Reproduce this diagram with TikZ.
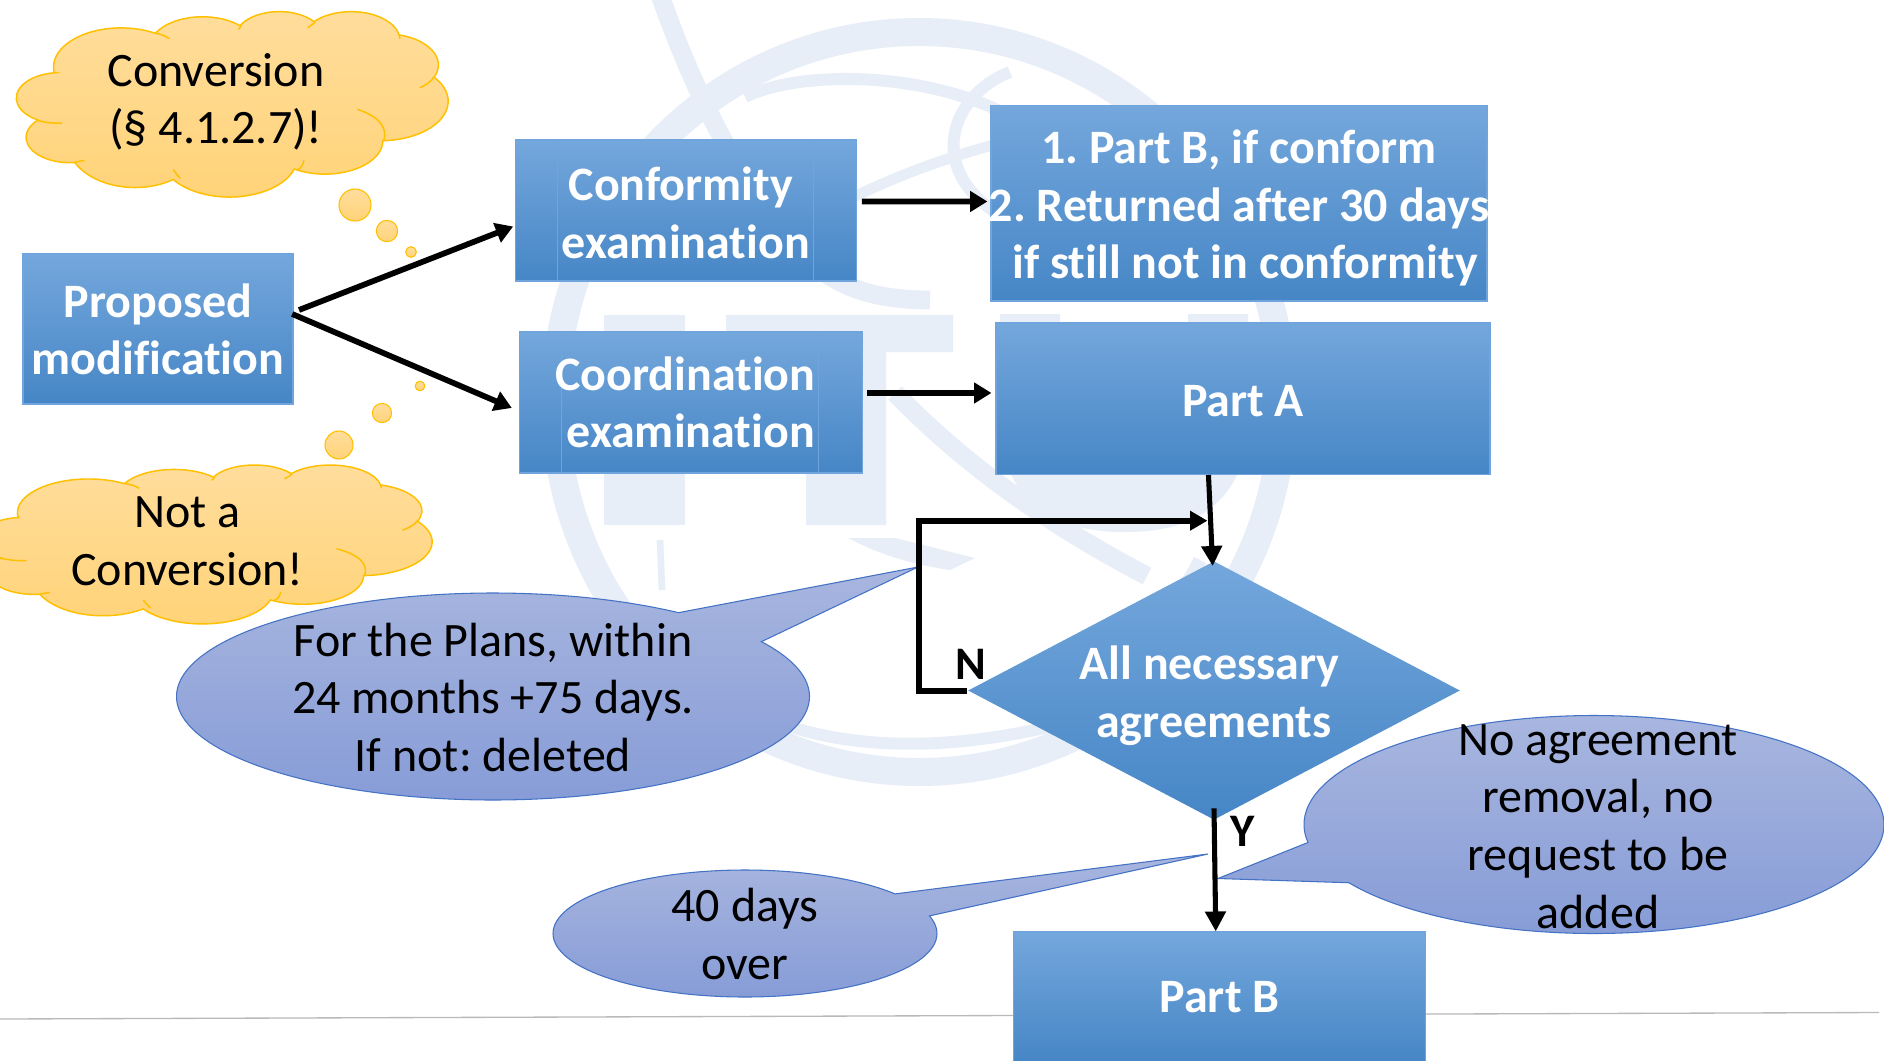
\documentclass[tikz,border=0pt]{standalone}
\usepackage{fontspec}
\setmainfont[Ligatures=NoCommon]{Carlito}
\usetikzlibrary{arrows.meta,shapes.geometric,calc}
\definecolor{wm}{HTML}{E8EEF8}
\definecolor{boxA}{HTML}{74A7DC}
\definecolor{boxB}{HTML}{5A9BDB}
\definecolor{boxC}{HTML}{4686C6}
\definecolor{boxL}{HTML}{6FA5DC}
\definecolor{cloudT}{HTML}{FFDD9C}
\definecolor{cloudB}{HTML}{FFD378}
\definecolor{cloudE}{HTML}{FFC000}
\definecolor{callT}{HTML}{A8B6DF}
\definecolor{callB}{HTML}{879CD7}
\definecolor{callE}{HTML}{4472C4}
\newcommand\ca[4]{arc[x radius=#1pt,y radius=#2pt,start angle={atan2(#1*sin(#3),#2*cos(#3))},delta angle={Mod(atan2(#1*sin(#3+#4),#2*cos(#3+#4))-atan2(#1*sin(#3),#2*cos(#3)),360)}]}
\newcommand\cloudshape{(39,143.7) \ca{67.53}{91.90}{-190.487}{123.781} \ca{53.33}{72.67}{-144.102}{89.945} \ca{43.65}{59.45}{-145.808}{99.723} \ca{48.57}{65.95}{-130.986}{117.242} \ca{53.33}{72.73}{-78.709}{109.027} \ca{67.75}{92.20}{-46.282}{134.647} \ca{57.85}{78.67}{0.625}{114.033} \ca{67.52}{92.15}{22.452}{115.173} \ca{67}{105.43}{66.243}{75.711} \ca{43.60}{59.18}{-274.942}{146.736} \ca{43.45}{59.45}{-246.829}{152.519} -- cycle}
\newcommand\cloudinner{(46.93,261.77) .. controls (36,263) and (28,259) .. (22,255) (69.28,348.99) .. controls (66,350) and (63,351) .. (60,353) (164.78,390.90) .. controls (162,384) and (160,377) .. (158,370) (288.27,347.51) .. controls (288,358) and (285,369) .. (281,372) (341.29,229.54) .. controls (362,245) and (372,270) .. (368,303) (417.98,153.54) .. controls (416,163) and (411,172) .. (404,179) (383.24,54.26) .. controls (384,58) and (384,61) .. (384,65) (292,39) .. controls (296,32) and (300,27) .. (299,25) (223,43) .. controls (225,37) and (226,35) .. (225,34) (140,52) .. controls (146,54) and (150,58) .. (154,65)}
\newcommand\mycloud[4]{\begin{scope}[shift={(#1,#2)},x=1pt,y=1pt,xscale={0.75*#3/432},yscale={-0.75*#4/432}]
\draw[cloudE,line width=1.1pt,top color=cloudT,bottom color=cloudB] \cloudshape;
\draw[cloudE,line width=1.1pt] \cloudinner;
\end{scope}}
\newcommand\lift[1]{\rule{0pt}{#1}}
\tikzset{
 flowbox/.style={rectangle,draw=boxL,line width=.8pt,top color=boxA,middle color=boxB,bottom color=boxC,text=white,font=\fontsize{36}{43.2}\selectfont\bfseries,align=center,inner sep=0pt},
 sidebars/.style={path picture={
   \draw[boxL,line width=.7pt] ([xshift=31.5pt]path picture bounding box.north west) -- ([xshift=31.5pt]path picture bounding box.south west);
   \draw[boxL,line width=.7pt] ([xshift=-32.5pt]path picture bounding box.north east) -- ([xshift=-32.5pt]path picture bounding box.south east);}},
 talk/.style={font=\fontsize{36}{43.2}\selectfont,align=center,inner sep=0pt,text=black},
 conn/.style={black,line width=4.3pt,-{Triangle[length=13pt,width=15pt]}},
 thinconn/.style={black,line width=3.8pt,-{Triangle[length=15pt,width=15pt]}},
 bubble/.style={draw=cloudE,line width=.8pt,top color=cloudT,bottom color=cloudB},
 callout/.style={draw=callE,line width=.8pt,top color=callT,bottom color=callB},
 wmline/.style={draw=wm,line cap=butt},
 letter/.style={font=\fontsize{35}{35}\selectfont\bfseries,text=black,inner sep=0pt}
}
\frenchspacing
\begin{document}
\begin{tikzpicture}[x=.75pt,y=-.75pt]
\useasboundingbox (0,0) rectangle (1884,1060);
\fill[white] (0,0) rectangle (1884,1060);
\clip (0,0) rectangle (1884,1060);
% watermark
\draw[wmline,line width=21pt] (919,402) ellipse [x radius=273pt,y radius=277.5pt];
\fill[wm] (604,315) rectangle (685,525);
\fill[wm] (726,315) rectangle (953,352) (806,315) rectangle (886,525);
\draw[wmline,line width=45pt] (1030,314) -- (1030,420) .. controls (1030,490) and (1080,502) .. (1125,502) .. controls (1170,502) and (1218,490) .. (1218,420) -- (1218,314);
\draw[wmline,line width=14pt] (660,-5) .. controls (690,80) and (730,170) .. (800,250) .. controls (830,285) and (870,300) .. (930,300);
\draw[wmline,line width=9pt] (745,97) .. controls (800,70) and (930,70) .. (1017,120);
\draw[wmline,line width=9pt] (1010,72) .. controls (950,95) and (925,170) .. (1000,215);
\draw[wmline,line width=8pt] (742,272) .. controls (800,215) and (900,170) .. (1000,143);
\draw[wmline,line width=14pt] (895,393) .. controls (960,460) and (1040,520) .. (1147,576);
\fill[wm] (848,538) -- (895,538) .. controls (925,545) and (950,552) .. (975,558) -- (950,570) .. controls (915,565) and (880,555) .. cycle;
\draw[wmline,line width=5pt] (660,540) -- (662,590);
\draw[wmline,line width=9pt] (585,530) .. controls (620,620) and (680,680) .. (760,715) .. controls (860,760) and (1000,750) .. (1140,700);
\draw[wmline,line width=10pt] (1200,560) .. controls (1170,620) and (1120,660) .. (1060,690);
% footer rule
\coordinate (ruleL) at (0,1019);
\coordinate (ruleR) at (1879,1012.5);
\draw[gray!55,line width=1pt] (ruleL) -- (ruleR);
% clouds
\mycloud{15}{11}{433}{185}
\mycloud{-23}{464.5}{455}{158.5}
\draw[bubble] (355,205) circle [radius=12pt];
\draw[bubble] (387,231) circle [radius=8pt];
\draw[bubble] (411,252) circle [radius=4pt];
\draw[bubble] (420,386) circle [radius=3.6pt];
\draw[bubble] (382,413) circle [radius=7.2pt];
\draw[bubble] (339,445) circle [radius=10.5pt];
\node[talk] (convA) at (216,102) {Conversion\\(§ 4.1.2.7)!};
\node[talk] (convB) at (187.5,541.5) {Not a\\Conversion!};
% callouts
\coordinate (tipPlans) at (918,567);
\coordinate (tipForty) at (1208,854);
\coordinate (tipNoAgr) at (1218,878.5);
\draw[callout] plot[domain=-32:305.9,samples=120,smooth] ({493+316.5*cos(\x)},{696.5+103.5*sin(\x)}) -- (tipPlans) -- cycle;
\draw[callout] plot[domain=-16.1:321.4,samples=120,smooth] ({745+192*cos(\x)},{933.5+63.5*sin(\x)}) -- (tipForty) -- cycle;
\draw[callout] plot[domain=170.5:507.7,samples=120,smooth] ({1594+290*cos(\x)},{824.5+109*sin(\x)}) -- (tipNoAgr) -- cycle;
\node[talk] (plans) at (493,697.5) {For the Plans, within\\24 months +75 days.\\If not: deleted};
\node[talk] (forty) at (745,934) {40 days\\over};
\node[talk] (noagr) at (1598,826.5) {No agreement\\removal, no\\request to be\\added};
% boxes
\node[flowbox,minimum width=202.5pt,minimum height=112.5pt] (prop) at (158,329) {\lift{26pt}Proposed\\modification};
\node[flowbox,sidebars,minimum width=256pt,minimum height=105.75pt] (conf) at (685.7,210.5) {\lift{28.5pt}Conformity\hspace*{7.2pt}\\examination};
\node[flowbox,sidebars,minimum width=257pt,minimum height=105.75pt] (coord) at (690.7,402.5) {Coordination\hspace*{8pt}\\examination};
\node[flowbox,minimum width=372pt,minimum height=146.5pt] (result) at (1239,203.3) {\lift{32.5pt}\makebox[360pt]{1. Part B, if conform}\\\makebox[360pt]{2. Returned after 30 days}\\\makebox[360pt]{\hspace*{9pt}if still not in conformity}};
\node[flowbox,minimum width=370.5pt,minimum height=113.6pt] (parta) at (1243,398.7) {\lift{27pt}Part A};
\node[flowbox,minimum width=308.5pt,minimum height=97.5pt] (partb) at (1219.5,997) {Part B};
\node[flowbox,diamond,aspect=1.9,draw=none,minimum width=369pt,minimum height=194pt] (agree) at (1214,690.5) {\lift{33.5pt}All necessary\hspace*{7pt}\\agreements};
% labels
\node[letter] (lblN) at (971,664) {N};
\node[letter] (lblY) at (1243,831) {Y};
% connectors
\draw[conn] ([xshift=4.1pt,yshift=14.25pt]prop.east) -- ([xshift=-1pt,yshift=-12pt]conf.west);
\draw[conn] ([xshift=-1pt,yshift=11.25pt]prop.east) -- ([xshift=-5.25pt,yshift=-4.1pt]coord.west);
\draw[conn] ([xshift=3.8pt,yshift=6.75pt]conf.east) -- ([xshift=-2.25pt,yshift=1.35pt]result.west);
\draw[conn] ([xshift=3.5pt,yshift=7.1pt]coord.east) -- ([xshift=-3pt,yshift=4.3pt]parta.west);
\draw[thinconn] ([xshift=-25.9pt]parta.south) -- ([xshift=-1pt,yshift=-4pt]agree.north);
\coordinate (merge) at (1207.5,520.7);
\draw[black,line width=4.5pt,-{Triangle[length=13pt,width=14pt]}] (agree.west) -- ++(-48,0) |- (merge);
\draw[thinconn] (agree.south) ++(0,-12) -- ([xshift=-2.8pt]partb.north);
\end{tikzpicture}
\end{document}
